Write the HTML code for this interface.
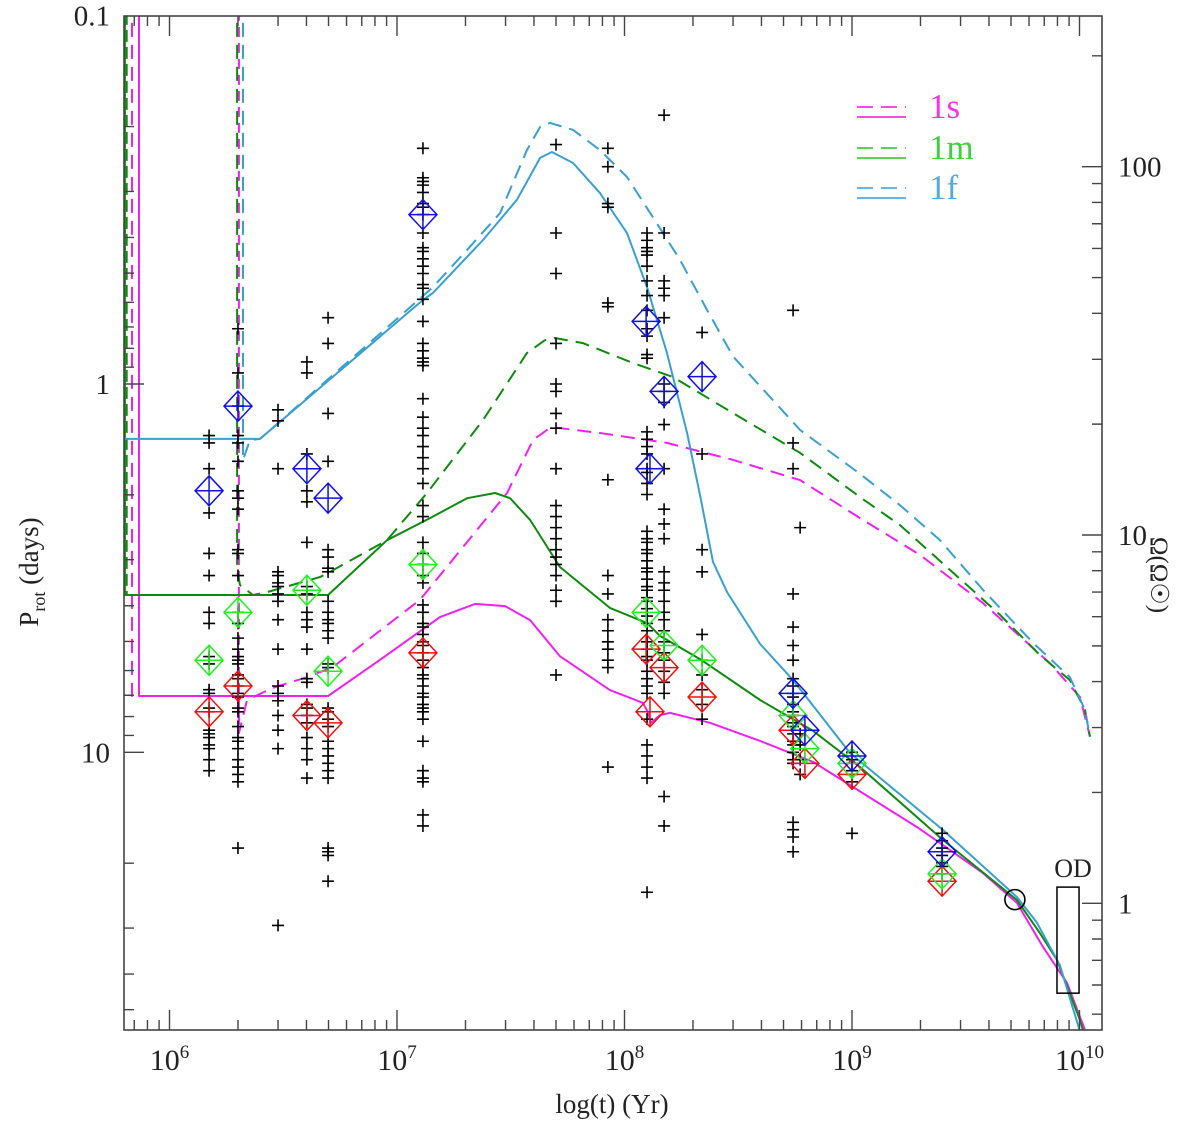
<!DOCTYPE html>
<html><head><meta charset="utf-8"><style>
html,body{margin:0;padding:0;background:#fff}
svg{display:block}
text{font-family:"Liberation Serif",serif;fill:#222}
</style></head><body>
<svg id="chart" width="1200" height="1124" viewBox="0 0 1200 1124" xmlns="http://www.w3.org/2000/svg">
<defs><clipPath id="plotclip"><rect x="124" y="16" width="978" height="1014"/></clipPath></defs>
<g id="plot" clip-path="url(#plotclip)"></g>
<g id="axes"></g>
<g id="legend"></g>
</svg>
<script>
// ---- scales (log10 age in yr, log10 P in days) ----
const X = lg => 169.5 + (lg - 6) * 227.5;
const Y = lp => 384 + lp * 368.3;
const LOG_PSUN = 1.41;

// ---- model curves ----
const magSolidAge = [5.866,5.866,6.697,6.925,7.189,7.343,7.475,7.585,7.716,7.936,8.081,8.103,8.116,8.156,8.200,8.376,8.596,8.829,8.991,9.286,9.576,9.725,9.840,9.945,10.024];
const magSolidLogP = [-1.1,0.847,0.847,0.749,0.633,0.597,0.603,0.641,0.739,0.831,0.866,0.891,0.920,0.899,0.893,0.920,0.969,1.026,1.089,1.203,1.328,1.409,1.529,1.626,1.754];
const magDashAge = [5.835,5.835,6.305,6.305,6.341,6.455,6.604,6.719,7.101,7.484,7.598,7.659,7.703,7.892,8.187,8.477,8.772,9.035,9.299,9.576,9.870,10.002,10.046];
const magDashLogP = [-1.1,0.847,0.847,0.948,0.858,0.825,0.796,0.768,0.586,0.296,0.152,0.125,0.119,0.133,0.160,0.206,0.261,0.364,0.464,0.595,0.758,0.850,0.958];
const magDashTopAge = [6.305,6.305];
const magDashTopLogP = [-1.1,0.948];

const grnSolidAge = [5.804,5.804,6.697,6.956,7.145,7.308,7.431,7.497,7.585,7.716,7.936,8.099,8.156,8.332,8.596,8.829,9.035,9.40,9.725,9.826,9.901,10.002,10.015];
const grnSolidLogP = [-1.1,0.573,0.573,0.424,0.364,0.310,0.296,0.310,0.369,0.497,0.608,0.649,0.684,0.747,0.858,0.942,1.040,1.238,1.401,1.491,1.564,1.727,1.754];
const grnDashAge = [6.297,6.297,6.31,6.367,6.429,6.662,6.697,6.956,7.132,7.378,7.571,7.650,7.694,7.817,8.037,8.213,8.477,8.772,9.035,9.211,9.431,9.651,9.826,9.958,10.024,10.046];
const grnDashLogP = [-1.1,0.505,0.546,0.573,0.565,0.524,0.513,0.424,0.296,0.098,-0.084,-0.119,-0.125,-0.111,-0.057,-0.019,0.079,0.187,0.307,0.383,0.505,0.627,0.736,0.804,0.885,0.958];
const grnLeftDashAge = [5.812,5.812];
const grnLeftDashLogP = [-1.1,0.573];

const cyaSolidAge = [5.80,6.398,7.114,7.158,7.378,7.527,7.629,7.681,7.774,7.892,8.011,8.099,8.187,8.275,8.332,8.389,8.451,8.596,8.741,8.991,9.40,9.725,9.813,9.914,10.00];
const cyaSolidLogP = [0.149,0.149,-0.228,-0.247,-0.391,-0.5,-0.614,-0.630,-0.6,-0.519,-0.41,-0.263,-0.084,0.133,0.301,0.483,0.565,0.706,0.804,1.002,1.211,1.393,1.463,1.578,1.754];
const cyaDashAge = [6.323,6.323,6.354,6.398,7.044,7.158,7.308,7.453,7.571,7.629,7.673,7.774,7.892,8.011,8.125,8.244,8.363,8.477,8.772,9.035,9.211,9.387,9.576,9.796,9.958,10.024,10.046];
const cyaDashLogP = [-1.1,0.206,0.152,0.149,-0.201,-0.263,-0.364,-0.464,-0.635,-0.698,-0.709,-0.690,-0.635,-0.562,-0.453,-0.337,-0.201,-0.075,0.125,0.244,0.329,0.424,0.559,0.703,0.796,0.885,0.958];

// ---- observed clusters (crosses) ----
const clusterAge = [6.174,6.301,6.477,6.604,6.697,7.114,7.699,7.927,8.099,8.174,8.341,8.741,8.772,9.0,9.396];
const clusterLogP = [
 [0.14,0.16,0.23,0.35,0.46,0.52,0.62,0.65,0.74,0.76,0.83,0.84,0.88,0.89,0.94,0.95,0.96,0.98,0.99,1.02,1.05],
 [-0.15,-0.03,0.06,0.14,0.16,0.21,0.29,0.31,0.34,0.45,0.46,0.52,0.62,0.65,0.69,0.72,0.74,0.75,0.76,0.79,0.80,0.82,0.84,0.85,0.88,0.89,0.93,0.96,0.97,0.99,1.02,1.04,1.06,1.08,1.26],
 [0.07,0.10,0.23,0.51,0.52,0.54,0.55,0.57,0.59,0.64,0.72,0.82,0.84,0.86,0.90,0.94,0.99,1.47],
 [-0.06,-0.03,0.19,0.29,0.32,0.43,0.55,0.57,0.62,0.64,0.66,0.72,0.80,0.81,0.87,0.88,0.90,0.92,0.96,0.99,1.02,1.07],
 [-0.18,-0.11,0.08,0.21,0.45,0.47,0.50,0.51,0.59,0.62,0.64,0.65,0.67,0.69,0.76,0.77,0.88,0.89,0.91,0.93,0.97,0.99,1.01,1.03,1.05,1.07,1.26,1.27,1.28,1.35],
 [-0.64,-0.56,-0.55,-0.54,-0.52,-0.49,-0.48,-0.46,-0.41,-0.37,-0.36,-0.34,-0.32,-0.30,-0.27,-0.26,-0.23,-0.17,-0.11,-0.09,-0.07,-0.06,-0.05,0.04,0.09,0.12,0.14,0.17,0.20,0.23,0.27,0.33,0.36,0.43,0.46,0.49,0.52,0.54,0.60,0.62,0.65,0.66,0.68,0.70,0.71,0.73,0.75,0.77,0.79,0.80,0.82,0.84,0.85,0.87,0.88,0.89,0.91,0.97,1.05,1.07,1.08,1.17,1.20],
 [-0.65,-0.41,-0.30,-0.11,0.00,0.02,0.08,0.12,0.23,0.33,0.36,0.39,0.42,0.45,0.47,0.49,0.52,0.56,0.59,0.79],
 [-0.64,-0.59,-0.49,-0.48,-0.22,-0.21,0.26,0.52,0.57,0.64,0.67,0.70,0.72,0.75,0.77,1.04],
 [-0.41,-0.39,-0.37,-0.36,-0.35,-0.32,-0.28,-0.24,-0.20,-0.15,-0.13,-0.08,-0.07,0.13,0.15,0.17,0.19,0.23,0.24,0.27,0.30,0.40,0.42,0.43,0.45,0.46,0.48,0.50,0.51,0.53,0.55,0.56,0.58,0.59,0.61,0.63,0.65,0.67,0.70,0.72,0.74,0.75,0.78,0.80,0.82,0.84,0.91,0.98,1.01,1.04,1.07,1.38],
 [-0.73,-0.41,-0.28,-0.26,-0.24,-0.18,0.00,0.02,0.05,0.11,0.23,0.34,0.38,0.42,0.51,0.54,0.56,0.59,0.62,0.64,0.67,0.70,0.73,0.75,0.78,0.81,0.84,1.12,1.20],
 [-0.14,0.19,0.45,0.51,0.68,0.75,0.79,0.83,0.87,0.91],
 [-0.20,0.16,0.23,0.57,0.66,0.71,0.75,0.80,0.82,0.84,0.85,0.87,0.89,0.90,0.92,0.93,0.95,0.97,0.98,1.00,1.02,1.03,1.19,1.21,1.23,1.27],
 [0.39,0.95,0.98,1.02,1.06],
 [1.00,1.02,1.03,1.05,1.06,1.08,1.22],
 [1.22,1.24,1.26,1.28,1.30,1.31,1.33]
];

// ---- diamonds (percentile markers) ----
const blueAge = [6.174,6.301,6.604,6.697,7.114,8.095,8.112,8.174,8.341,8.741,8.793,9.0,9.396];
const blueLogP = [0.29,0.06,0.23,0.31,-0.46,-0.17,0.23,0.02,-0.02,0.84,0.94,1.01,1.27];
const greenAge = [6.174,6.301,6.604,6.697,7.114,8.095,8.174,8.341,8.741,8.793,9.0,9.396];
const greenLogP = [0.75,0.62,0.56,0.78,0.49,0.62,0.71,0.75,0.90,0.99,1.03,1.33];
const redAge = [6.174,6.301,6.604,6.697,7.114,8.095,8.112,8.174,8.341,8.741,8.793,9.0,9.396];
const redLogP = [0.89,0.82,0.90,0.92,0.73,0.72,0.89,0.77,0.85,0.94,1.03,1.06,1.35];

const sunAge = [9.716];
const sunLogP = [1.40];
const odAgeRange = [9.901, 9.998];
const odLogPRange = [1.366, 1.654];

// ---- ticks ----
const xMajor = [6,7,8,9,10];
const xMajorLabels = ["6","7","8","9","10"];
const yMajor = [-1,0,1];
const yMajorLabels = ["0.1","1","10"];
const omegaMajor = [0,1,2];
const omegaMajorLabels = ["1","10","100"];

const NS = "http://www.w3.org/2000/svg";
const plot = document.getElementById('plot');
const axes = document.getElementById('axes');
const legend = document.getElementById('legend');
function mk(tag, parent, attrs){const e=document.createElementNS(NS,tag);for(const k in attrs)e.setAttribute(k,attrs[k]);parent.appendChild(e);return e;}

const MAG="#ee22ee", GRN="#118811", CYA="#3b9fcc";
function curve(ages, lps, color, dash, name){
  const d = ages.map((a,i)=>(i?'L':'M')+X(a).toFixed(1)+','+Y(lps[i]).toFixed(1)).join(' ');
  const p = mk('path', plot, {d:d, fill:'none', stroke:color, 'stroke-width':2, 'stroke-dasharray':dash||'none', 'stroke-linejoin':'round'});
  
  
}
curve(grnLeftDashAge, grnLeftDashLogP, GRN, '12 5', 'model-1m-dashed-left');
curve(magDashAge, magDashLogP, MAG, '14 8', 'model-1s-dashed');
curve(magDashTopAge, magDashTopLogP, MAG, '10 6', 'model-1s-dashed-vertical');
curve(grnDashAge, grnDashLogP, GRN, '14 8', 'model-1m-dashed');
curve(cyaDashAge, cyaDashLogP, CYA, '14 8', 'model-1f-dashed');
curve(magSolidAge, magSolidLogP, MAG, null, 'model-1s-solid');
curve(grnSolidAge, grnSolidLogP, GRN, null, 'model-1m-solid');
curve(cyaSolidAge, cyaSolidLogP, CYA, null, 'model-1f-solid');

// crosses
clusterAge.forEach((a,ci)=>{
  const g = mk('g', plot, {stroke:'#000','stroke-width':1.6});
  
  
  clusterLogP[ci].forEach(lp=>{
    const x=X(a), y=Y(lp);
    const c = mk('path', g, {d:`M${x-6},${y}H${x+6}M${x},${y-6}V${y+6}`});
    
    
  });
});
function diamonds(ages, lps, color, name){
  ages.forEach((a,i)=>{
    const x=X(a), y=Y(lps[i]), w=14, h=15;
    const dm = mk('path', plot, {d:`M${x},${y-h}L${x+w},${y}L${x},${y+h}L${x-w},${y}ZM${x-w},${y}H${x+w}M${x},${y-h}V${y+h}`, fill:'none', stroke:color, 'stroke-width':1.5});
    
    
  });
}
diamonds(redAge, redLogP, '#ee1111', 'diamond-red');
diamonds(greenAge, greenLogP, '#22ee22', 'diamond-green');
diamonds(blueAge, blueLogP, '#1111dd', 'diamond-blue');

const sun = mk('circle', plot, {cx:X(sunAge[0]), cy:Y(sunLogP[0]), r:10, fill:'none', stroke:'#000','stroke-width':1.6});


const od = mk('rect', axes, {x:X(odAgeRange[0]), y:Y(odLogPRange[0]), width:X(odAgeRange[1])-X(odAgeRange[0]), height:Y(odLogPRange[1])-Y(odLogPRange[0]), fill:'none', stroke:'#000','stroke-width':1.5});


const odt = mk('text', axes, {x:(X(odAgeRange[0])+X(odAgeRange[1]))/2+5, y:Y(odLogPRange[0])-10, 'font-size':26, 'text-anchor':'middle'});
odt.textContent='OD';



// frame
const L=124,R=1102,T=16,B=1030;
const fr = mk('rect', axes, {x:L,y:T,width:R-L,height:B-T,fill:'none',stroke:'#444','stroke-width':1.6});


let tk='';
for(let dec=5; dec<=10; dec++){
  for(let m=1;m<=9;m++){
    const lg=dec+Math.log10(m); const x=X(lg);
    if(x<L||x>R) continue;
    const len = m===1?20:10;
    tk+=`M${x},${B}V${B-len}M${x},${T}V${T+len}`;
  }
}
for(let dec=-2; dec<=1; dec++){
  for(let m=1;m<=9;m++){
    const y=Y(dec+Math.log10(m)); if(y<T||y>B) continue;
    tk+=`M${L},${y}H${L+(m===1?20:10)}`;
  }
}
for(let dec=-1; dec<=2; dec++){
  for(let m=1;m<=9;m++){
    const y=Y(LOG_PSUN-(dec+Math.log10(m))); if(y<T||y>B) continue;
    tk+=`M${R},${y}H${R-(m===1?20:10)}`;
  }
}
const ticks = mk('path', axes, {d:tk, stroke:'#444','stroke-width':1.4, fill:'none'});



xMajor.forEach((v,i)=>{
  const t = mk('text', axes, {x:X(v), y:1070, 'font-size':30, 'text-anchor':'middle'});
  t.innerHTML = '10<tspan font-size="19" dy="-12">'+xMajorLabels[i]+'</tspan>';
  
  
});
yMajor.forEach((v,i)=>{
  const t = mk('text', axes, {x:110, y:Y(v)+10, 'font-size':29, 'text-anchor':'end'});
  t.textContent = yMajorLabels[i];
  
  
});
omegaMajor.forEach((v,i)=>{
  const t = mk('text', axes, {x:1118, y:Y(LOG_PSUN-v)+10, 'font-size':29});
  t.textContent = omegaMajorLabels[i];
  
  
});
const xt = mk('text', axes, {x:612, y:1113, 'font-size':27, 'text-anchor':'middle'});
xt.textContent='log(t) (Yr)';


const yt = mk('text', axes, {x:0, y:0, 'font-size':27, 'text-anchor':'middle', transform:'translate(38,572) rotate(-90)'});
yt.innerHTML='P<tspan font-size="18" dy="7">rot</tspan><tspan dy="-7">  (days)</tspan>';


const rt = mk('text', axes, {x:0, y:0, 'font-size':25, 'text-anchor':'middle', transform:'translate(1151,575) rotate(90)'});
rt.textContent='Ω(Ω☉)';



// legend
const legNames = ["1s","1m","1f"];
const legColors = ["#ff33dd","#44cc44","#55aadd"];
const legY = [107,148,188];
legNames.forEach((n,i)=>{
  const g = mk('g', legend, {});
  
  
  mk('path', g, {d:`M857,${legY[i]}H906`, stroke:legColors[i], 'stroke-width':1.8, 'stroke-dasharray':'16 8'});
  mk('path', g, {d:`M857,${legY[i]+10}H906`, stroke:legColors[i], 'stroke-width':1.8});
  const t = mk('text', g, {x:929, y:legY[i]+11, 'font-size':35, style:'fill:'+legColors[i]});
  t.textContent=n;
});
</script>
</body></html>
